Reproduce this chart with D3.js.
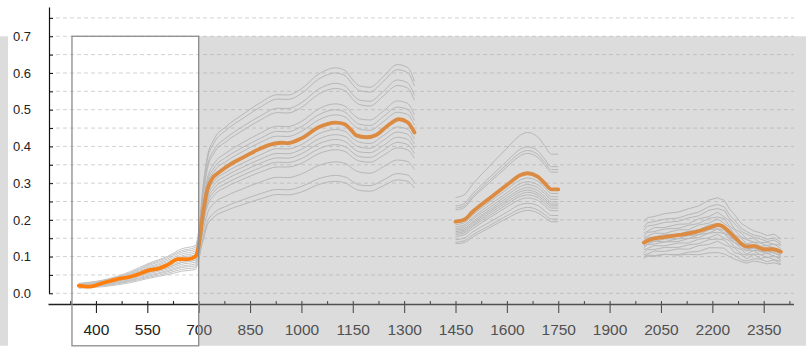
<!DOCTYPE html>
<html>
<head>
<meta charset="utf-8">
<script src="https://cdn.jsdelivr.net/npm/d3@7"></script>
<style>
  body { margin: 0; background: #fff; }
  svg { display: block; font-family: "Liberation Sans", Arial, Helvetica, sans-serif; }
</style>
</head>
<body>
<svg id="chart" width="806" height="350"></svg>
<script>
// ---- Reflectance spectra (wavelength in nm, reflectance 0..1) ----

// Mean spectrum, three bands (water-absorption gaps removed)
const MEAN_WL_1 = [350, 380, 420, 460, 500, 530, 555, 585, 610, 640, 670, 690, 700, 712, 725, 740, 760, 790, 830, 870, 910, 940, 960, 1000, 1050, 1100, 1125, 1145, 1160, 1190, 1220, 1250, 1285, 1310, 1330];
const MEAN_1 = [0.021, 0.018, 0.028, 0.038, 0.045, 0.054, 0.063, 0.068, 0.078, 0.093, 0.093, 0.100, 0.128, 0.215, 0.281, 0.313, 0.330, 0.350, 0.370, 0.390, 0.405, 0.410, 0.409, 0.422, 0.452, 0.465, 0.461, 0.445, 0.430, 0.425, 0.432, 0.455, 0.474, 0.466, 0.438];

const MEAN_WL_2 = [1450, 1475, 1500, 1550, 1600, 1640, 1660, 1690, 1710, 1730, 1750];
const MEAN_2 = [0.195, 0.200, 0.222, 0.259, 0.295, 0.322, 0.327, 0.318, 0.300, 0.283, 0.283];

const MEAN_WL_3 = [2000, 2020, 2060, 2105, 2155, 2195, 2218, 2238, 2268, 2300, 2320, 2350, 2375, 2400];
const MEAN_3 = [0.138, 0.147, 0.153, 0.159, 0.168, 0.180, 0.186, 0.177, 0.150, 0.127, 0.129, 0.120, 0.120, 0.113];

// Individual sample spectra
const SAMPLE_WL_1 = [350, 420, 500, 555, 610, 650, 690, 700, 712, 725, 745, 780, 830, 880, 930, 960, 1000, 1050, 1100, 1130, 1150, 1170, 1200, 1240, 1280, 1310, 1330];
const SAMPLES_1 = [
  [0.025, 0.034, 0.054, 0.076, 0.094, 0.112, 0.120, 0.169, 0.284, 0.371, 0.420, 0.454, 0.488, 0.519, 0.541, 0.540, 0.557, 0.597, 0.614, 0.605, 0.581, 0.565, 0.561, 0.591, 0.623, 0.615, 0.578],
  [0.019, 0.025, 0.041, 0.057, 0.070, 0.084, 0.090, 0.146, 0.277, 0.362, 0.410, 0.444, 0.477, 0.507, 0.529, 0.528, 0.544, 0.583, 0.600, 0.591, 0.568, 0.552, 0.548, 0.578, 0.609, 0.601, 0.565],
  [0.026, 0.035, 0.056, 0.079, 0.098, 0.116, 0.125, 0.167, 0.264, 0.346, 0.391, 0.423, 0.455, 0.483, 0.504, 0.503, 0.519, 0.556, 0.572, 0.563, 0.541, 0.526, 0.523, 0.551, 0.581, 0.573, 0.539],
  [0.023, 0.031, 0.050, 0.069, 0.086, 0.102, 0.110, 0.154, 0.258, 0.337, 0.382, 0.413, 0.444, 0.472, 0.492, 0.491, 0.506, 0.542, 0.558, 0.550, 0.528, 0.514, 0.510, 0.538, 0.566, 0.559, 0.526],
  [0.017, 0.022, 0.036, 0.050, 0.062, 0.074, 0.080, 0.128, 0.239, 0.312, 0.353, 0.382, 0.411, 0.436, 0.455, 0.454, 0.468, 0.502, 0.516, 0.508, 0.488, 0.475, 0.472, 0.497, 0.524, 0.517, 0.486],
  [0.027, 0.036, 0.059, 0.082, 0.101, 0.121, 0.130, 0.160, 0.231, 0.302, 0.342, 0.370, 0.398, 0.422, 0.441, 0.440, 0.454, 0.486, 0.500, 0.492, 0.473, 0.460, 0.457, 0.482, 0.507, 0.501, 0.471],
  [0.021, 0.028, 0.045, 0.063, 0.078, 0.093, 0.100, 0.138, 0.225, 0.294, 0.332, 0.359, 0.387, 0.411, 0.428, 0.427, 0.441, 0.472, 0.486, 0.479, 0.460, 0.447, 0.444, 0.468, 0.493, 0.487, 0.458],
  [0.015, 0.020, 0.032, 0.044, 0.055, 0.065, 0.070, 0.111, 0.206, 0.270, 0.305, 0.330, 0.355, 0.377, 0.394, 0.393, 0.405, 0.434, 0.446, 0.440, 0.422, 0.411, 0.408, 0.430, 0.453, 0.447, 0.420],
  [0.024, 0.032, 0.052, 0.072, 0.090, 0.107, 0.115, 0.141, 0.200, 0.261, 0.296, 0.320, 0.344, 0.365, 0.381, 0.380, 0.392, 0.420, 0.432, 0.426, 0.409, 0.398, 0.395, 0.417, 0.439, 0.433, 0.407],
  [0.018, 0.024, 0.038, 0.054, 0.066, 0.079, 0.085, 0.118, 0.194, 0.253, 0.286, 0.310, 0.333, 0.354, 0.369, 0.368, 0.380, 0.407, 0.419, 0.412, 0.396, 0.385, 0.383, 0.403, 0.425, 0.419, 0.394],
  [0.022, 0.029, 0.047, 0.066, 0.082, 0.098, 0.105, 0.130, 0.187, 0.244, 0.277, 0.299, 0.322, 0.342, 0.357, 0.356, 0.367, 0.393, 0.405, 0.398, 0.383, 0.372, 0.370, 0.390, 0.411, 0.405, 0.381],
  [0.016, 0.021, 0.034, 0.047, 0.059, 0.070, 0.075, 0.107, 0.181, 0.236, 0.267, 0.289, 0.311, 0.330, 0.344, 0.344, 0.354, 0.380, 0.391, 0.385, 0.370, 0.360, 0.357, 0.376, 0.396, 0.391, 0.368],
  [0.020, 0.027, 0.043, 0.060, 0.074, 0.088, 0.095, 0.116, 0.166, 0.216, 0.245, 0.265, 0.285, 0.303, 0.316, 0.315, 0.325, 0.348, 0.358, 0.353, 0.339, 0.330, 0.327, 0.345, 0.363, 0.359, 0.337],
  [0.014, 0.018, 0.029, 0.041, 0.051, 0.060, 0.065, 0.090, 0.148, 0.194, 0.219, 0.237, 0.255, 0.271, 0.283, 0.282, 0.291, 0.312, 0.321, 0.316, 0.304, 0.295, 0.293, 0.309, 0.326, 0.322, 0.302],
  [0.019, 0.025, 0.041, 0.057, 0.070, 0.084, 0.090, 0.105, 0.141, 0.184, 0.208, 0.225, 0.242, 0.257, 0.269, 0.268, 0.276, 0.296, 0.305, 0.300, 0.288, 0.280, 0.278, 0.293, 0.309, 0.305, 0.287]
];

const SAMPLE_WL_2 = [1450, 1475, 1500, 1550, 1600, 1640, 1660, 1690, 1710, 1730, 1750];
const SAMPLES_2 = [
  [0.261, 0.268, 0.297, 0.347, 0.395, 0.431, 0.438, 0.426, 0.402, 0.379, 0.379],
  [0.238, 0.244, 0.271, 0.316, 0.360, 0.393, 0.399, 0.388, 0.366, 0.345, 0.345],
  [0.232, 0.238, 0.264, 0.308, 0.351, 0.383, 0.389, 0.378, 0.357, 0.337, 0.337],
  [0.227, 0.233, 0.259, 0.302, 0.344, 0.375, 0.381, 0.370, 0.350, 0.330, 0.330],
  [0.187, 0.192, 0.213, 0.249, 0.283, 0.309, 0.314, 0.305, 0.288, 0.272, 0.272],
  [0.181, 0.186, 0.206, 0.241, 0.274, 0.299, 0.304, 0.296, 0.279, 0.263, 0.263],
  [0.176, 0.181, 0.201, 0.234, 0.267, 0.291, 0.296, 0.288, 0.272, 0.256, 0.256],
  [0.172, 0.176, 0.195, 0.228, 0.260, 0.283, 0.288, 0.280, 0.264, 0.249, 0.249],
  [0.168, 0.172, 0.191, 0.223, 0.254, 0.277, 0.281, 0.273, 0.258, 0.243, 0.243],
  [0.164, 0.168, 0.186, 0.218, 0.248, 0.270, 0.275, 0.267, 0.252, 0.238, 0.238],
  [0.160, 0.164, 0.182, 0.212, 0.242, 0.264, 0.268, 0.261, 0.246, 0.232, 0.232],
  [0.155, 0.159, 0.176, 0.206, 0.235, 0.256, 0.260, 0.253, 0.239, 0.225, 0.225],
  [0.146, 0.150, 0.167, 0.194, 0.221, 0.242, 0.245, 0.239, 0.225, 0.212, 0.212],
  [0.139, 0.143, 0.159, 0.185, 0.211, 0.230, 0.234, 0.227, 0.215, 0.202, 0.202],
  [0.135, 0.138, 0.153, 0.179, 0.204, 0.222, 0.226, 0.219, 0.207, 0.195, 0.195]
];

const SAMPLE_WL_3 = [2000, 2010, 2030, 2060, 2100, 2130, 2160, 2190, 2215, 2235, 2250, 2265, 2285, 2300, 2320, 2340, 2360, 2380, 2400];
const SAMPLES_3 = [
  [0.195, 0.206, 0.209, 0.217, 0.221, 0.230, 0.238, 0.254, 0.260, 0.253, 0.230, 0.214, 0.190, 0.181, 0.170, 0.165, 0.157, 0.161, 0.148],
  [0.180, 0.192, 0.195, 0.202, 0.205, 0.214, 0.221, 0.236, 0.242, 0.235, 0.214, 0.199, 0.177, 0.168, 0.159, 0.155, 0.147, 0.151, 0.139],
  [0.172, 0.183, 0.186, 0.193, 0.196, 0.205, 0.211, 0.226, 0.231, 0.225, 0.204, 0.190, 0.169, 0.161, 0.153, 0.148, 0.141, 0.145, 0.133],
  [0.164, 0.169, 0.179, 0.179, 0.188, 0.189, 0.203, 0.209, 0.221, 0.208, 0.197, 0.175, 0.164, 0.148, 0.150, 0.138, 0.139, 0.133, 0.131],
  [0.155, 0.166, 0.168, 0.175, 0.177, 0.185, 0.190, 0.204, 0.208, 0.203, 0.184, 0.172, 0.153, 0.146, 0.140, 0.137, 0.130, 0.134, 0.122],
  [0.150, 0.155, 0.164, 0.163, 0.173, 0.173, 0.186, 0.191, 0.203, 0.190, 0.180, 0.160, 0.150, 0.135, 0.139, 0.128, 0.130, 0.124, 0.118],
  [0.143, 0.151, 0.153, 0.160, 0.161, 0.169, 0.173, 0.186, 0.190, 0.185, 0.168, 0.157, 0.139, 0.133, 0.130, 0.127, 0.120, 0.125, 0.112],
  [0.131, 0.140, 0.141, 0.148, 0.149, 0.157, 0.160, 0.173, 0.176, 0.172, 0.156, 0.145, 0.129, 0.123, 0.122, 0.120, 0.112, 0.118, 0.105],
  [0.129, 0.133, 0.142, 0.140, 0.149, 0.149, 0.160, 0.164, 0.175, 0.164, 0.155, 0.138, 0.129, 0.116, 0.124, 0.113, 0.116, 0.109, 0.104],
  [0.124, 0.133, 0.134, 0.140, 0.141, 0.149, 0.152, 0.164, 0.166, 0.163, 0.147, 0.138, 0.122, 0.117, 0.117, 0.115, 0.108, 0.113, 0.099],
  [0.119, 0.122, 0.130, 0.129, 0.137, 0.137, 0.147, 0.151, 0.161, 0.150, 0.143, 0.126, 0.119, 0.107, 0.116, 0.105, 0.109, 0.101, 0.096],
  [0.110, 0.119, 0.119, 0.125, 0.125, 0.132, 0.135, 0.146, 0.148, 0.145, 0.131, 0.123, 0.108, 0.104, 0.107, 0.106, 0.097, 0.103, 0.090],
  [0.105, 0.107, 0.115, 0.114, 0.121, 0.120, 0.130, 0.133, 0.142, 0.132, 0.127, 0.111, 0.105, 0.094, 0.106, 0.095, 0.099, 0.092, 0.087],
  [0.095, 0.101, 0.100, 0.106, 0.105, 0.112, 0.114, 0.124, 0.124, 0.123, 0.110, 0.104, 0.091, 0.088, 0.094, 0.093, 0.086, 0.091, 0.080],
  [0.100, 0.104, 0.103, 0.106, 0.104, 0.106, 0.105, 0.110, 0.111, 0.107, 0.100, 0.093, 0.086, 0.082, 0.088, 0.085, 0.080, 0.083, 0.078]
];

// Axis ticks
const X_TICKS = [400, 550, 700, 850, 1000, 1150, 1300, 1450, 1600, 1750, 1900, 2050, 2200, 2350];
const X_MINOR_TICKS = [325, 475, 625, 775, 925, 1075, 1225, 1375, 1525, 1675, 1825, 1975, 2125, 2275, 2425];
const Y_TICKS = [0, 0.05, 0.1, 0.15, 0.2, 0.25, 0.3, 0.35, 0.4, 0.45, 0.5, 0.55, 0.6, 0.65, 0.7, 0.75];
const Y_LABELS = [0, 0.1, 0.2, 0.3, 0.4, 0.5, 0.6, 0.7];

// Selected wavelength window
const SELECTION = [330, 700];

// ---- Drawing ----
const svg = d3.select("#chart");
const x = d3.scaleLinear().domain([260, 2437]).range([48, 793.5]);
const y = d3.scaleLinear().domain([0, 0.78]).range([293.3, 6.9]);

const zip = (wl, vals) => wl.map((w, i) => [w, vals[i]]);

// Dashed horizontal grid
svg.append("g")
  .selectAll("line")
  .data(Y_TICKS)
  .join("line")
  .attr("x1", 49).attr("x2", 794)
  .attr("y1", d => y(d)).attr("y2", d => y(d))
  .attr("stroke", "#d2d2d2")
  .attr("stroke-width", 1)
  .attr("stroke-dasharray", "4,3");

const smooth = d3.line().x(d => x(d[0])).y(d => y(d[1])).curve(d3.curveMonotoneX);
const jagged = d3.line().x(d => x(d[0])).y(d => y(d[1]));

// Sample spectra
const gSamples = svg.append("g")
  .attr("fill", "none")
  .attr("stroke", "#c4c4c4")
  .attr("stroke-width", 1);

[[SAMPLE_WL_1, SAMPLES_1, smooth], [SAMPLE_WL_2, SAMPLES_2, smooth], [SAMPLE_WL_3, SAMPLES_3, jagged]]
  .forEach(([wl, rows, gen]) => {
    gSamples.append("g")
      .selectAll("path")
      .data(rows)
      .join("path")
      .attr("d", r => gen(zip(wl, r)));
  });

// Mean spectrum
const gMean = svg.append("g")
  .attr("fill", "none")
  .attr("stroke", "#ff7f0e")
  .attr("stroke-width", 3.8)
  .attr("stroke-linecap", "round")
  .attr("stroke-linejoin", "round");

[[MEAN_WL_1, MEAN_1], [MEAN_WL_2, MEAN_2], [MEAN_WL_3, MEAN_3]].forEach(([wl, v]) => {
  gMean.append("path").attr("d", smooth(zip(wl, v)));
});

// Y axis
const yAxis = svg.append("g")
  .attr("transform", "translate(49,0)")
  .call(d3.axisLeft(y)
    .tickValues(Y_TICKS)
    .tickSize(-4)
    .tickSizeOuter(0)
    .tickPadding(18)
    .tickFormat(d => Y_LABELS.some(v => Math.abs(v - d) < 1e-9) ? d3.format(".1f")(d) : ""));
yAxis.select(".domain").attr("stroke", "#111").attr("stroke-width", 1.2);
yAxis.selectAll(".tick line").attr("stroke", "#111");
yAxis.selectAll("text").attr("font-size", 13).attr("fill", "#222").attr("font-family", null);

// X axis
const xAxis = svg.append("g")
  .attr("transform", "translate(0,304)")
  .call(d3.axisBottom(x)
    .tickValues(X_TICKS)
    .tickSize(9)
    .tickSizeOuter(0)
    .tickPadding(11)
    .tickFormat(d3.format("d")));
xAxis.select(".domain").attr("stroke", "#222").attr("stroke-width", 1.3);
xAxis.selectAll(".tick line").attr("y1", -3).attr("stroke", "#222").attr("stroke-width", 1.1);
xAxis.selectAll("text").attr("font-size", 15.5).attr("fill", "#222").attr("font-family", null);

const xMinor = svg.append("g")
  .attr("transform", "translate(0,304)")
  .call(d3.axisBottom(x).tickValues(X_MINOR_TICKS).tickSize(-3).tickSizeOuter(0).tickFormat(""));
xMinor.select(".domain").remove();
xMinor.selectAll(".tick line").attr("stroke", "#222").attr("stroke-width", 1.1);

// Shade outside the selected window
const shadeTop = y(0.7), shadeBottom = 345.8;
const shade = svg.append("g").attr("fill", "#a0a0a0").attr("fill-opacity", 0.37);
shade.append("rect")
  .attr("x", 0).attr("y", shadeTop)
  .attr("width", 8).attr("height", shadeBottom - shadeTop);
shade.append("rect")
  .attr("x", x(SELECTION[1])).attr("y", shadeTop)
  .attr("width", 806 - x(SELECTION[1])).attr("height", shadeBottom - shadeTop);

// Selection frame
svg.append("rect")
  .attr("x", x(SELECTION[0])).attr("y", shadeTop)
  .attr("width", x(SELECTION[1]) - x(SELECTION[0]))
  .attr("height", shadeBottom - shadeTop)
  .attr("fill", "none")
  .attr("stroke", "#8c8c8c")
  .attr("stroke-width", 1.3);
</script>
</body>
</html>
